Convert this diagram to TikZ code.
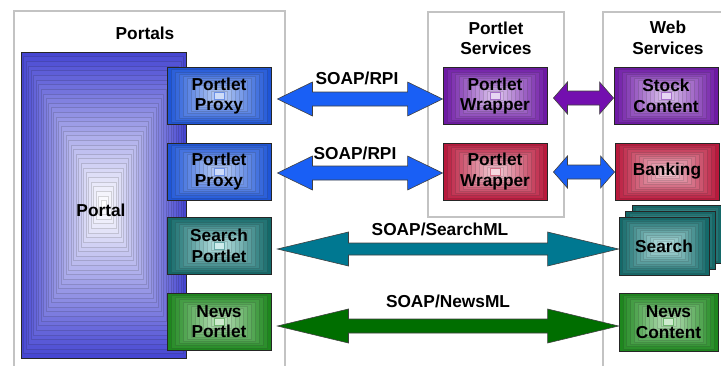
\documentclass[tikz,border=0pt]{standalone}
\usepackage{fontspec}
\setmainfont{Liberation Sans}
\usetikzlibrary{calc}
\definecolor{proxyO}{RGB}{30,85,215}
\definecolor{proxyI}{RGB}{185,205,245}
\definecolor{wrapO}{RGB}{110,25,165}
\definecolor{wrapI}{RGB}{220,195,238}
\definecolor{bankO}{RGB}{185,25,60}
\definecolor{bankI}{RGB}{242,200,210}
\definecolor{searchO}{RGB}{20,105,105}
\definecolor{searchI}{RGB}{185,228,228}
\definecolor{newsO}{RGB}{30,135,30}
\definecolor{newsI}{RGB}{185,225,185}
\definecolor{portalO}{RGB}{70,70,210}
\definecolor{portalI}{RGB}{255,255,255}
\definecolor{arBlue}{RGB}{25,95,245}
\definecolor{arPurple}{RGB}{115,15,175}
\definecolor{arTeal}{RGB}{0,120,145}
\definecolor{arGreen}{RGB}{0,110,0}
\definecolor{frame}{RGB}{195,195,195}
\newcommand{\lblfont}{\fontsize{17.3}{20.5}\selectfont\bfseries}
\newcommand{\dblarrow}[6]{%
  \path[arrowshape, fill=#6] (#1) -- ($(#1)+(#5,-#3)$) -- ($(#1)+(#5,-#4)$)
    -- ($(#2)+(-#5,-#4)$) -- ($(#2)+(-#5,-#3)$) -- (#2)
    -- ($(#2)+(-#5,#3)$) -- ($(#2)+(-#5,#4)$) -- ($(#1)+(#5,#4)$)
    -- ($(#1)+(#5,#3)$) -- cycle;}
\tikzset{
  grad/.style n args={3}{path picture={
    \foreach \i in {0,...,#3} {
      \pgfmathsetmacro\f{0.5*\i/(#3+1)}
      \pgfmathtruncatemacro\pc{100-100*\i/#3}
      \path[fill=#1!\pc!#2, draw=#1!\pc!#2!85!black, line width=0.4]
        ($(path picture bounding box.north west)!\f!(path picture bounding box.south east)$)
        rectangle
        ($(path picture bounding box.south east)!\f!(path picture bounding box.north west)$);
    }
  }},
  gradicon/.style n args={3}{path picture={
    \foreach \i in {0,...,#3} {
      \pgfmathsetmacro\f{0.5*\i/(#3+1)}
      \pgfmathtruncatemacro\pc{100-100*\i/#3}
      \path[fill=#1!\pc!#2, draw=#1!\pc!#2!85!black, line width=0.4]
        ($(path picture bounding box.north west)!\f!(path picture bounding box.south east)$)
        rectangle
        ($(path picture bounding box.south east)!\f!(path picture bounding box.north west)$);
    }
    \path[fill=#2!70!white, draw=#1!50!#2, line width=0.4]
      ($(path picture bounding box.center)+(-5,-3.5)$) rectangle ($(path picture bounding box.center)+(5,3.5)$);
  }},
  box/.style={draw=black!85, line width=0.9, minimum width=104, minimum height=57,
    inner sep=0, align=center, font=\lblfont},
  title/.style={align=center, font=\lblfont, inner sep=0},
  lbl/.style={font=\lblfont, inner sep=0},
  container/.style={draw=frame, line width=2.6},
  arrowshape/.style={draw=black!75, line width=0.6, line join=miter},
}
\begin{document}
\begin{tikzpicture}[x=1pt,y=-1pt]
\useasboundingbox (0,0) rectangle (721,365);
\fill[white] (0,0) rectangle (721,365);
\begin{scope}
\clip (0,0) rectangle (721,365);
% containers
\draw[container] (14,11) rectangle (285,372);
\draw[container] (428,12) rectangle (564,217);
\draw[container] (603,12) rectangle (730,372);
% titles
\node[title] (tPortals) at (145,33) {Portals};
\node[title] (tPS) at (496,38.5) {Portlet\\Services};
\node[title] (tWS) at (668,38) {Web\\Services};
% portal
\node[box, grad={portalO}{portalI}{32}, minimum width=165, minimum height=306] (portal) at (103.5,205) {};
\node[lbl] (portalLbl) at (101,210) {Portal};
% left boxes
\node[box, gradicon={proxyO}{proxyI}{12}] (pp1) at (219,96) {Portlet\\Proxy};
\node[box, gradicon={proxyO}{proxyI}{12}] (pp2) at (219,171.5) {Portlet\\Proxy};
\node[box, gradicon={searchO}{searchI}{12}] (sp) at (219,246) {Search\\Portlet};
\node[box, gradicon={newsO}{newsI}{12}] (np) at (219,321.5) {News\\Portlet};
% portlet services
\node[box, gradicon={wrapO}{wrapI}{12}] (pw1) at (495,96) {Portlet\\Wrapper};
\node[box, gradicon={bankO}{bankI}{12}] (pw2) at (495,171.5) {Portlet\\Wrapper};
% web services
\node[box, gradicon={wrapO}{wrapI}{12}] (sc) at (666,96) {Stock\\Content};
\node[box, grad={bankO}{bankI}{12}] (bk) at (667,171.5) {Banking};
\node[box, grad={searchO}{searchI}{12}, minimum width=90, minimum height=58] (s3) at (677,234) {};
\node[box, grad={searchO}{searchI}{12}, minimum width=90, minimum height=58] (s2) at (670.5,240) {};
\node[box, grad={searchO}{searchI}{12}, minimum width=90, minimum height=58] (s1) at (664,246) {Search};
\node[box, gradicon={newsO}{newsI}{12}, minimum width=99, minimum height=58] (nc) at (668.5,322) {News\\Content};
\end{scope}
% arrows
\coordinate (a1l) at ($(pp1.east)+(6,3)$);
\coordinate (a1r) at (pw1.west |- a1l);
\dblarrow{a1l}{a1r}{17}{7}{35}{arBlue}
\coordinate (a2l) at ($(pp2.east)+(6,1.5)$);
\coordinate (a2r) at (pw2.west |- a2l);
\dblarrow{a2l}{a2r}{17}{7}{35}{arBlue}
\coordinate (a3l) at ($(pw1.east)+(6,2)$);
\coordinate (a3r) at (sc.west |- a3l);
\dblarrow{a3l}{a3r}{16}{7}{14}{arPurple}
\coordinate (a4l) at ($(pw2.east)+(6,0.5)$);
\coordinate (a4r) at (bk.west |- a4l);
\dblarrow{a4l}{a4r}{16}{7}{14}{arBlue}
\coordinate (a5l) at ($(sp.east)+(6,3)$);
\coordinate (a5r) at (s1.west |- a5l);
\dblarrow{a5l}{a5r}{17}{6}{71}{arTeal}
\coordinate (a6l) at ($(np.east)+(6,4.5)$);
\coordinate (a6r) at (nc.west |- a6l);
\dblarrow{a6l}{a6r}{17}{7}{71}{arGreen}
% arrow labels
\node[lbl] (l1) at (357,78) {SOAP/RPI};
\node[lbl] (l2) at (355,153) {SOAP/RPI};
\node[lbl] (l3) at (440,229) {SOAP/SearchML};
\node[lbl] (l4) at (448,301) {SOAP/NewsML};
\end{tikzpicture}
\end{document}
